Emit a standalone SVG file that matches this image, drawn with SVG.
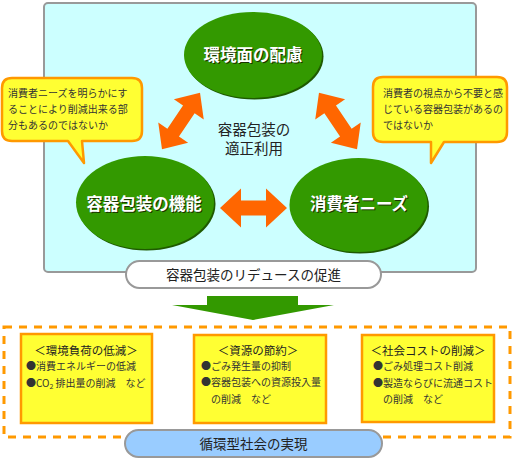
<svg xmlns="http://www.w3.org/2000/svg" width="515" height="459" viewBox="0 0 515 459">
<style>
text{font-family:"Noto Sans CJK JP","Liberation Sans",sans-serif;}
.ell{fill:#339900;}
.ellsh{fill:#1f5a00;}
.et{font-size:16.5px;font-weight:bold;fill:#fff;text-anchor:middle;}
.es{font-size:16.5px;font-weight:bold;fill:#1a3300;text-anchor:middle;}
.arr{fill:#ff6600;}
.bub{fill:#ffff33;stroke:#ff9900;stroke-width:2.5;stroke-linejoin:round;}
.bt{font-size:10px;fill:#333;}
.box{fill:#ffff33;stroke:#ff9900;stroke-width:2.5;}
.tt{font-size:11.5px;fill:#222;text-anchor:middle;}
.it{font-size:10px;fill:#333;}
.pill{stroke:#999;stroke-width:2;}
.pt{font-size:13.5px;fill:#222;text-anchor:middle;}
</style>
<defs>
<path id="dbl" d="M-34,0 L-14,-18 L-14,-7 L14,-7 L14,-18 L34,0 L14,18 L14,7 L-14,7 L-14,18 Z"/>
</defs>
<g id="frame">
<rect x="44" y="3" width="432" height="269" rx="4" fill="#ccffff" stroke="#999" stroke-width="2"/>
</g>
<g id="connectors">
<use href="#dbl" class="arr" transform="translate(181,121) rotate(-56)"/>
<use href="#dbl" class="arr" transform="translate(338,121) rotate(56)"/>
<path class="arr" d="M220,208 L241,188.5 L241,200.5 L266,200.5 L266,188.5 L287,208 L266,227.5 L266,215.5 L241,215.5 L241,227.5 Z"/>
<path fill="#339900" d="M207,296 L298,296 L298,305 L334,305 L253,320 L172,305 L207,305 Z"/>
</g>
<g id="node-env">
<ellipse class="ellsh" cx="254.5" cy="56.5" rx="69" ry="43"/>
<ellipse class="ell" cx="253" cy="55" rx="69" ry="43"/>
<text class="es" x="254" y="62">環境面の配慮</text>
<text class="et" x="253" y="61">環境面の配慮</text>
</g>
<g id="node-func">
<ellipse class="ellsh" cx="146.5" cy="204" rx="69" ry="46.5"/>
<ellipse class="ell" cx="145" cy="202.5" rx="69" ry="46.5"/>
<text class="es" x="145" y="211">容器包装の機能</text>
<text class="et" x="144" y="210">容器包装の機能</text>
</g>
<g id="node-needs">
<ellipse class="ellsh" cx="360" cy="206.5" rx="69" ry="47"/>
<ellipse class="ell" cx="358.5" cy="205" rx="69" ry="47"/>
<text class="es" x="360" y="211">消費者ニーズ</text>
<text class="et" x="359" y="210">消費者ニーズ</text>
</g>
<g id="center-label">
<text x="254" y="134.5" font-size="14.5" fill="#222" text-anchor="middle">容器包装の</text>
<text x="254" y="154" font-size="14.5" fill="#222" text-anchor="middle">適正利用</text>
</g>
<g id="bubble-left">
<path class="bub" d="M12,78 L132,78 Q142,78 142,88 L142,131 Q142,141 132,141 L82,141 L84,163 L68,141 L12,141 Q2,141 2,131 L2,88 Q2,78 12,78 Z"/>
<text class="bt" x="8" y="96.5">消費者ニーズを明らかにす</text>
<text class="bt" x="8" y="112.5">ることにより削減出来る部</text>
<text class="bt" x="8" y="128.5">分もあるのではないか</text>
</g>
<g id="bubble-right">
<path class="bub" d="M383,77 L497,77 Q507,77 507,87 L507,132 Q507,142 497,142 L444,142 L431,163 L431,142 L383,142 Q373,142 373,132 L373,87 Q373,77 383,77 Z"/>
<text class="bt" x="383" y="96.5">消費者の視点から不要と感</text>
<text class="bt" x="383" y="112.5">じている容器包装があるの</text>
<text class="bt" x="383" y="128.5">ではないか</text>
</g>
<g id="node-reduce">
<rect class="pill" x="126" y="261" width="255" height="27" rx="13.5" fill="#fff"/>
<text class="pt" x="253.5" y="279.5">容器包装のリデュースの促進</text>
</g>
<g id="dashed-frame">
<rect x="4" y="327" width="506" height="110" fill="none" stroke="#ff9900" stroke-width="3" stroke-dasharray="8 7"/>
</g>
<g id="box-env">
<rect class="box" x="21" y="334" width="131" height="89"/>
<text class="tt" x="86" y="355">＜環境負荷の低減＞</text>
<text class="it" x="26" y="369.5">●消費エネルギーの低減</text>
<text class="it" x="26" y="386.5">●CO<tspan font-size="7" dy="2">2</tspan><tspan dy="-2"> 排出量の削減　など</tspan></text>
</g>
<g id="box-resource">
<rect class="box" x="194" y="335" width="132" height="88"/>
<text class="tt" x="258" y="355">＜資源の節約＞</text>
<text class="it" x="201" y="369.5">●ごみ発生量の抑制</text>
<text class="it" x="201" y="386">●容器包装への資源投入量</text>
<text class="it" x="211" y="403">の削減　など</text>
</g>
<g id="box-social">
<rect class="box" x="362" y="335" width="132" height="87"/>
<text class="tt" x="428" y="355">＜社会コストの削減＞</text>
<text class="it" x="373" y="369.5">●ごみ処理コスト削減</text>
<text class="it" x="373" y="386.5">●製造ならびに流通コスト</text>
<text class="it" x="383" y="403">の削減　など</text>
</g>
<g id="node-society">
<rect class="pill" x="125" y="430" width="257" height="27" rx="13.5" fill="#99ccff"/>
<text class="pt" x="253.5" y="448.5">循環型社会の実現</text>
</g>
</svg>
